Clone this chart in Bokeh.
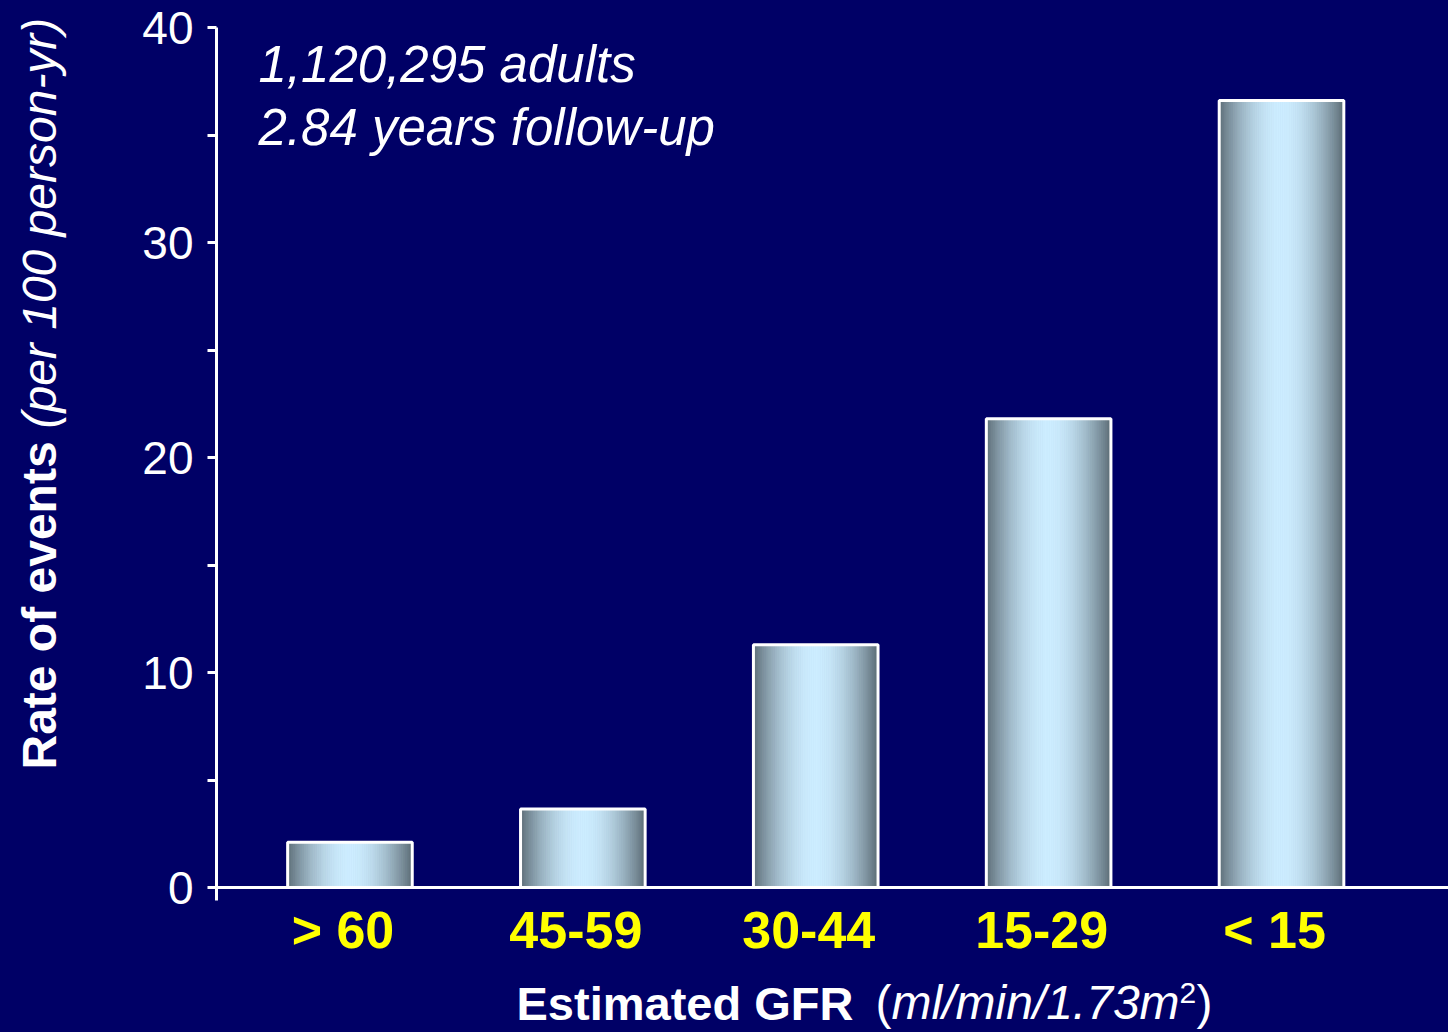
import numpy as np
from bokeh.plotting import figure
from bokeh.layouts import column, row
from bokeh.models import Range1d, FixedTicker, Label
from bokeh.embed import file_html
from bokeh.resources import INLINE

# eGFR categories and cardiovascular event rates (per 100 person-years)
categories = ["> 60", "45-59", "30-44", "15-29", "< 15"]
event_rates = [2.11, 3.65, 11.29, 21.80, 36.60]
y_major_ticks = [0, 10, 20, 30, 40]
y_minor_ticks = [5, 15, 25, 35]
y_axis_bounds = (0, 40)

BG = "#000066"
FONT = "Liberation Sans"
BAR_W = 0.535
X_START, X_END = -0.573, 4.717
LABEL_SHIFT = -0.03    # category labels sit slightly left of the bar centres

TOTAL_W, TOTAL_H = 1448, 1032
YTITLE_W = 70          # strip holding the rotated y-axis title
XTITLE_H = 67          # strip holding the x-axis title
MAIN_H = TOTAL_H - XTITLE_H
FRAME_LEFT = 216       # canvas x of the y axis
FRAME_BOTTOM = 887     # canvas y of the x axis
PX_PER_UNIT = 21.5
Y_END = FRAME_BOTTOM / PX_PER_UNIT   # frame reaches the top edge; axis stops at 40
BASE_SHIFT = 0.35      # baseline correction for Label text, in em


def style_fig(fig):
    # the page itself carries the navy background around the frames
    fig.background_fill_color = BG
    fig.border_fill_color = None
    fig.outline_line_color = None


p = figure(width=TOTAL_W - YTITLE_W, height=MAIN_H, output_backend="svg",
           toolbar_location=None, x_range=Range1d(X_START, X_END),
           y_range=Range1d(0, Y_END),
           min_border_left=FRAME_LEFT - YTITLE_W, min_border_right=0, min_border_top=0,
           min_border_bottom=MAIN_H - FRAME_BOTTOM)
style_fig(p)
p.xgrid.visible = False
p.ygrid.visible = False

# bars with a horizontal metallic gradient, built from thin vertical strips
dark = np.array([92, 108, 117])
light = np.array([205, 237, 255])
n_strips = 96
t = (np.arange(n_strips) + 0.5) / n_strips
shade = np.sin(np.pi * t) ** 0.9
strip_colors = ["#%02x%02x%02x" % tuple(int(round(v)) for v in dark + (light - dark) * s)
                for s in shade]

lefts, rights, tops, colors = [], [], [], []
for i, v in enumerate(event_rates):
    x0 = i - BAR_W / 2
    for k in range(n_strips):
        lefts.append(x0 + BAR_W * k / n_strips)
        rights.append(x0 + BAR_W * (k + 1) / n_strips)
        tops.append(v)
        colors.append(strip_colors[k])
p.quad(left=lefts, right=rights, top=tops, bottom=0, fill_color=colors,
       line_color=colors, line_width=1)
p.vbar(x=list(range(len(categories))), width=BAR_W, top=event_rates, bottom=0,
       fill_color=None, line_color="white", line_width=3)

# y axis
ya = p.yaxis[0]
ya.bounds = y_axis_bounds
ya.ticker = FixedTicker(ticks=y_major_ticks, minor_ticks=y_minor_ticks)
ya.axis_line_color = "white"
ya.axis_line_width = 3
ya.major_tick_line_color = "white"
ya.major_tick_line_width = 3
ya.minor_tick_line_color = "white"
ya.minor_tick_line_width = 3
ya.major_tick_in = 0
ya.major_tick_out = 9
ya.minor_tick_in = 0
ya.minor_tick_out = 9
ya.major_label_text_color = "white"
ya.major_label_text_font = FONT
ya.major_label_text_font_size = "46px"
ya.major_label_standoff = 14

# x axis with category labels
label_pos = [round(i + LABEL_SHIFT, 3) for i in range(len(categories))]
xa = p.xaxis[0]
xa.ticker = FixedTicker(ticks=label_pos, minor_ticks=[X_START + 1e-6])
xa.major_label_overrides = {pos: c for pos, c in zip(label_pos, categories)}
xa.axis_line_color = "white"
xa.axis_line_width = 3
xa.major_tick_line_color = None
xa.major_tick_in = 0
xa.major_tick_out = 0
xa.minor_tick_line_color = "white"
xa.minor_tick_line_width = 3
xa.minor_tick_in = 0
xa.minor_tick_out = 13
xa.major_label_text_color = "#ffff00"
xa.major_label_text_font = FONT
xa.major_label_text_font_style = "bold"
xa.major_label_text_font_size = "52px"
xa.major_label_standoff = 0


def add_label(fig, x, y, text, size, style="normal", angle=0.0):
    shift = BASE_SHIFT * size
    if angle:
        x -= shift
    else:
        y += shift
    fig.add_layout(Label(x=x, y=y, x_units="screen", y_units="screen", text=text,
                         text_font=FONT, text_font_size=f"{size}px",
                         text_font_style=style, text_color="white", angle=angle,
                         text_align="left", text_baseline="alphabetic"))


# study description (frame origin is at the axes corner)
add_label(p, 42, FRAME_BOTTOM - 82, "1,120,295 adults", 51, "italic")
add_label(p, 42, FRAME_BOTTOM - 145, "2.84 years follow-up", 51, "italic")

# y axis title: bold and italic parts on one rotated line
ytitle = figure(width=YTITLE_W, height=MAIN_H, output_backend="svg", toolbar_location=None,
                x_axis_type=None, y_axis_type=None, min_border_left=0, min_border_right=0,
                min_border_top=0, min_border_bottom=MAIN_H - FRAME_BOTTOM,
                x_range=Range1d(0, 1), y_range=Range1d(0, 1))
style_fig(ytitle)
add_label(ytitle, 56, FRAME_BOTTOM - 769, "Rate of events", 48, "bold", angle=np.pi / 2)
add_label(ytitle, 56, FRAME_BOTTOM - 428, "(per 100 person-yr)", 48, "italic", angle=np.pi / 2)

# x axis title with superscript unit
xtitle = figure(width=TOTAL_W, height=XTITLE_H, output_backend="svg", toolbar_location=None,
                x_axis_type=None, y_axis_type=None, min_border_left=FRAME_LEFT,
                min_border_right=0, min_border_top=0, min_border_bottom=0,
                x_range=Range1d(0, 1), y_range=Range1d(0, 1))
style_fig(xtitle)
base = TOTAL_H - 1019
add_label(xtitle, 516 - FRAME_LEFT, base, "Estimated GFR", 47, "bold")
add_label(xtitle, 875 - FRAME_LEFT, base, "(", 48, "normal")
add_label(xtitle, 891 - FRAME_LEFT, base, "ml/min/1.73m", 48, "italic")
add_label(xtitle, 1179 - FRAME_LEFT, TOTAL_H - 1003, "2", 30, "normal")
add_label(xtitle, 1196 - FRAME_LEFT, base, ")", 48, "normal")

layout = column(row(ytitle, p), xtitle)

html = file_html(layout, INLINE)
page_css = ("<style>html, body { margin: 0; padding: 0; background-color: %s !important; }"
            "</style></head>" % BG)
html = html.replace("</head>", page_css, 1)
open("out.html", "w").write(html)
